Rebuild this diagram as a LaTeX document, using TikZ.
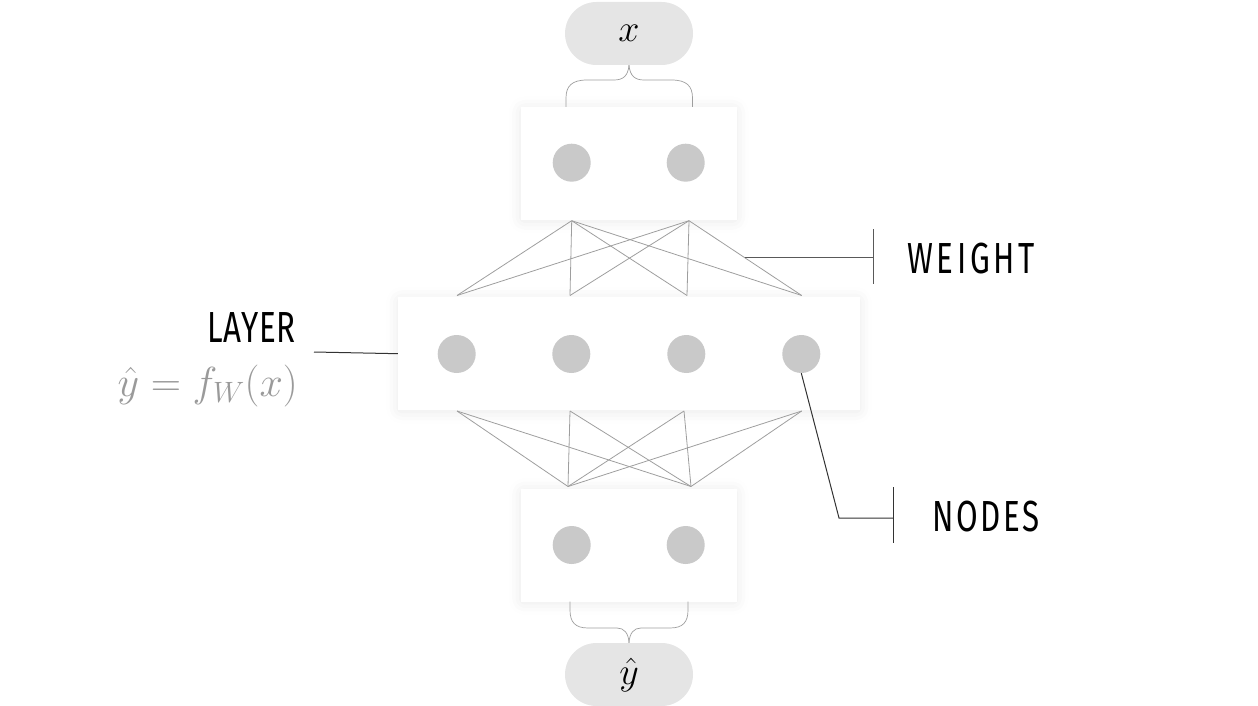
\RequirePackage{fix-cm}
\documentclass[tikz,border=0pt]{standalone}
\usepackage{fontspec}
\usetikzlibrary{shadows.blur,shapes.misc}
\newfontfamily\labfont{Fira Sans}[FakeStretch=0.72, LetterSpace=6]
\definecolor{pillgray}{HTML}{E5E5E5}
\definecolor{dotgray}{HTML}{C9C9C9}
\definecolor{wgray}{HTML}{9E9E9E}
\definecolor{fgray}{HTML}{9A9A9A}
\tikzset{
  layerbox/.style={draw=none, fill=white, inner sep=0pt,
    blur shadow={shadow xshift=0pt, shadow yshift=-1.5pt, shadow blur radius=12pt, shadow blur extra rounding=4pt, shadow opacity=9}},
  neuron/.style={circle, fill=dotgray, draw=none, minimum size=38pt, inner sep=0pt},
  pill/.style={rounded rectangle, fill=pillgray, draw=none, minimum width=128pt, minimum height=63pt, inner sep=0pt, font=\fontsize{38}{44}\selectfont},
  weightline/.style={draw=wgray, line width=0.8pt},
  bracel/.style={draw=wgray, line width=0.7pt},
  callout/.style={draw=black!80, line width=1pt},
  lab/.style={inner sep=0pt, font=\labfont\fontsize{43.5}{50}\selectfont, text=black},
  mathlab/.style={inner sep=0pt, font=\fontsize{42}{48}\selectfont}
}
\begin{document}
\begin{tikzpicture}[x=1pt,y=-1pt]
\useasboundingbox (0,0) rectangle (1258,706);
% pills
\node[pill] (xin) at (629,33.5) {$x$};
\node[pill] (yout) at (629,674.5) {$\hat{y}$};
% boxes
\node[layerbox, minimum width=216pt, minimum height=113pt] (topbox) at (628.7,163.3) {};
\node[layerbox, minimum width=462pt, minimum height=113pt] (midbox) at (629,353.7) {};
\node[layerbox, minimum width=216pt, minimum height=113pt] (botbox) at (628.7,545) {};
% neurons
\node[neuron] (t1) at (571.7,162.7) {};
\node[neuron] (t2) at (685.7,162.7) {};
\node[neuron] (m1) at (456.7,354) {};
\node[neuron] (m2) at (571.3,354) {};
\node[neuron] (m3) at (686.3,354) {};
\node[neuron] (m4) at (801.3,354) {};
\node[neuron] (b1) at (571.7,545) {};
\node[neuron] (b2) at (685.7,545) {};
% weight end points
\coordinate (ta) at (571.7,220.7);
\coordinate (tb) at (689,220.7);
\coordinate (ma) at (457,295.5);
\coordinate (mb) at (570,295.5);
\coordinate (mc) at (687,295.5);
\coordinate (md) at (801.7,295.5);
\coordinate (na) at (457,411);
\coordinate (nb) at (570,411);
\coordinate (nc) at (684,411);
\coordinate (nd) at (801.7,411);
\coordinate (ba) at (568,486.5);
\coordinate (bb) at (691,486.5);
\foreach \s in {ta,tb}{\foreach \e in {ma,mb,mc,md}{\draw[weightline] (\s) -- (\e);}}
\foreach \s in {na,nb,nc,nd}{\foreach \e in {ba,bb}{\draw[weightline] (\s) -- (\e);}}
% braces
\coordinate (tl) at (566,107);
\coordinate (tr) at (692.5,107);
\draw[bracel] (tl) -- (566,98) .. controls (566,86) and (572,80) .. (587,80) -- (614,80) .. controls (623,80) and (628,76) .. (xin.south);
\draw[bracel] (tr) -- (692.5,98) .. controls (692.5,86) and (686.5,80) .. (671.5,80) -- (644,80) .. controls (635,80) and (630,76) .. (xin.south);
\coordinate (bl) at (570,601.7);
\coordinate (br) at (688,601.7);
\draw[bracel] (bl) -- (570,610) .. controls (570,622) and (575,628) .. (588,628) -- (617,628) .. controls (624,628) and (628.5,633) .. (yout.north);
\draw[bracel] (br) -- (688,610) .. controls (688,622) and (683,628) .. (670,628) -- (641,628) .. controls (634,628) and (629.5,633) .. (yout.north);
% WEIGHT callout
\coordinate (wstart) at (745,257.5);
\coordinate (wbar) at (873,257.5);
\draw[callout, draw=black!65] (wstart) -- (wbar);
\draw[callout, draw=black!65] (873,229) -- (873,284);
\node[lab, anchor=base west] (wlab) at (907,273) {\addfontfeatures{LetterSpace=8.5}WEIGHT};
% NODES callout
\coordinate (nk) at (839,518);
\coordinate (nbar) at (893,518);
\draw[callout] (m4.south) -- (nk) -- (nbar);
\draw[callout] (893,487) -- (893,543);
\node[lab, anchor=base west] (nlab) at (932,531) {NODES};
% LAYER callout
\coordinate (lstart) at (314,352);
\draw[callout] (lstart) -- (midbox.west);
\node[lab, anchor=base east] (llab) at (296,342) {\addfontfeatures{LetterSpace=2}LAYER};
\node[mathlab, anchor=base east, text=fgray] (formula) at (298,396.5) {$\hat{y}=f_W(x)$};
\end{tikzpicture}
\end{document}
